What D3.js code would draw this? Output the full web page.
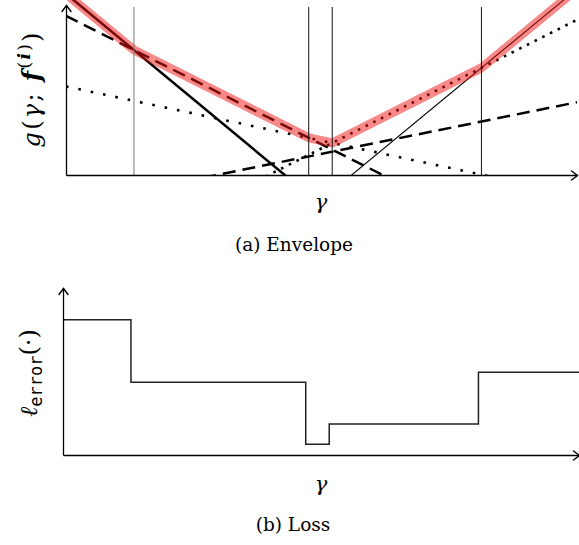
<!DOCTYPE html>
<html>
<head>
<meta charset="utf-8">
<script src="https://cdn.jsdelivr.net/npm/d3@7"></script>
<style>
  body { margin: 0; background: #fff; }
  svg { display: block; }
  .math { font-family: "DejaVu Serif", serif; }
  .caption { font-family: "DejaVu Serif", serif; }
  .tt { font-family: "DejaVu Sans Mono", monospace; }
</style>
</head>
<body>
<svg id="chart"></svg>
<script>
// --- data: the lines g_i(gamma) = a + b * gamma (arbitrary units, gamma in 0..100) ---
const lineIntercepts = [106.6, 93.6, 52.1, -60.0, -17.9, -138.7];
const lineSlopes     = [-2.49, -1.51, -0.638, 1.513, 0.607, 2.481];
const lineKinds      = ["thick", "dashed", "dotsLoose", "dots", "dashed", "thin"];

// breakpoints of the upper envelope (gamma), and the loss value on each piece
const breakpoints = [13.3, 47.5, 52.1, 81.3];
const lossValues  = [8.1, 4.35, 0.65, 1.85, 4.95];

const captions = ["(a) Envelope", "(b) Loss"];

// --- setup ---
const width = 579, height = 545;
const svg = d3.select("#chart")
    .attr("width", width)
    .attr("height", height)
    .attr("viewBox", [0, 0, width, height]);

// arrow head used on the axes
svg.append("defs").append("marker")
    .attr("id", "arrow")
    .attr("viewBox", "-8 -6 10 12")
    .attr("markerWidth", 10).attr("markerHeight", 12)
    .attr("markerUnits", "userSpaceOnUse")
    .attr("refX", 0).attr("refY", 0)
    .attr("orient", "auto")
  .append("path")
    .attr("d", "M-6,-4.5 Q-2,-1.5 0,0 Q-2,1.5 -6,4.5")
    .attr("fill", "none")
    .attr("stroke", "#000")
    .attr("stroke-width", 1.4)
    .attr("stroke-linecap", "round");

// --- top panel scales ---
const x = d3.scaleLinear().domain([0, 100]).range([66, 577]);
const y = d3.scaleLinear().domain([0, 100]).range([175, 5]);

svg.append("clipPath").attr("id", "clipTop")
  .append("rect")
    .attr("x", x(0)).attr("y", 0)
    .attr("width", x(100) - x(0)).attr("height", y(0));

const lineStyle = {
    thick:     { w: 2.5, dash: null },
    dashed:    { w: 2.5, dash: "13,7" },
    dotsLoose: { w: 2.6, dash: "2.6,10" },
    dots:      { w: 2.6, dash: "2.6,6" },
    thin:      { w: 1.1, dash: null }
};

const lineData = lineIntercepts.map((a, i) => ({ a, b: lineSlopes[i], kind: lineKinds[i] }));
const g = (L, t) => L.a + L.b * t;

const plotTop = svg.append("g").attr("clip-path", "url(#clipTop)");

plotTop.selectAll(".feature")
  .data(lineData)
  .join("line")
    .attr("class", "feature")
    .attr("x1", x(0)).attr("x2", x(100))
    .attr("y1", d => y(g(d, 0)))
    .attr("y2", d => y(g(d, 100)))
    .attr("stroke", "#000")
    .attr("stroke-width", d => lineStyle[d.kind].w)
    .attr("stroke-dasharray", d => lineStyle[d.kind].dash);

// upper envelope (max of the lines) through the breakpoints
const envGammas = [0, ...breakpoints, 100];
const envelope = envGammas.map(t => [t, d3.max(lineData, L => g(L, t))]);

plotTop.append("path")
    .datum(envelope)
    .attr("d", d3.line().x(d => x(d[0])).y(d => y(d[1])))
    .attr("fill", "none")
    .attr("stroke", "rgba(240,20,20,0.5)")
    .attr("stroke-width", 9)
    .attr("stroke-linejoin", "round");

// vertical guides at the breakpoints
svg.append("g")
  .selectAll("line")
  .data(breakpoints)
  .join("line")
    .attr("x1", d => x(d)).attr("x2", d => x(d))
    .attr("y1", 7).attr("y2", y(0))
    .attr("stroke", (d, i) => i === 0 ? "#777" : "#111")
    .attr("stroke-width", 1);

// axes (no ticks, arrow ends)
svg.append("g")
    .attr("transform", `translate(0,${y(0)})`)
    .call(d3.axisBottom(x).ticks(0).tickSizeOuter(0))
    .call(a => a.select(".domain").attr("stroke-width", 1.3).attr("marker-end", "url(#arrow)"));

svg.append("g")
    .attr("transform", `translate(${x(0)},0)`)
    .call(d3.axisLeft(y).ticks(0).tickSizeOuter(0))
    .call(a => a.select(".domain").attr("stroke-width", 1.3).attr("marker-end", "url(#arrow)"));

// labels
const ylab = svg.append("text")
    .attr("class", "math")
    .attr("transform", "translate(40,90) rotate(-90)")
    .attr("text-anchor", "middle")
    .style("font-size", "24px")
    .attr("textLength", 115)
    .attr("lengthAdjust", "spacing");
ylab.append("tspan").style("font-style", "italic").text("g");
ylab.append("tspan").text("(");
ylab.append("tspan").style("font-style", "italic").text("γ");
ylab.append("tspan").text("; ");
ylab.append("tspan").style("font-style", "italic").style("font-weight", "bold").text("f");
ylab.append("tspan").style("font-size", "17px").attr("dy", -10).text("(");
ylab.append("tspan").style("font-size", "17px").style("font-style", "italic").style("font-weight", "bold").text("i");
ylab.append("tspan").style("font-size", "17px").text(")");
ylab.append("tspan").attr("dy", 10).text(")");

svg.append("text")
    .attr("class", "math")
    .attr("x", 321).attr("y", 209)
    .attr("text-anchor", "middle")
    .style("font-style", "italic")
    .style("font-size", "21px")
    .text("γ");

svg.append("text")
    .attr("class", "caption")
    .attr("x", 294).attr("y", 251)
    .attr("text-anchor", "middle")
    .style("font-size", "18.5px")
    .text(captions[0]);

// --- bottom panel ---
const xB = d3.scaleLinear().domain([0, 100]).range([63, 574]);
const yB = d3.scaleLinear().domain([0, 10]).range([455, 288]);
const gammaEnd = xB.invert(579);

const cuts = [0, ...breakpoints, gammaEnd];
const steps = [];
lossValues.forEach((v, i) => {
    steps.push([cuts[i], v]);
    steps.push([cuts[i + 1], v]);
});

svg.append("path")
    .datum(steps)
    .attr("d", d3.line().x(d => xB(d[0])).y(d => yB(d[1])))
    .attr("fill", "none")
    .attr("stroke", "#222")
    .attr("stroke-width", 1.5);

svg.append("g")
    .attr("transform", `translate(0,${yB(0)})`)
    .call(d3.axisBottom(xB.copy().domain([0, gammaEnd]).range([63, 579])).ticks(0).tickSizeOuter(0))
    .call(a => a.select(".domain").attr("stroke-width", 1.3).attr("marker-end", "url(#arrow)"));

svg.append("g")
    .attr("transform", `translate(${xB(0)},0)`)
    .call(d3.axisLeft(yB).ticks(0).tickSizeOuter(0))
    .call(a => a.select(".domain").attr("stroke-width", 1.3).attr("marker-end", "url(#arrow)"));

const llab = svg.append("text")
    .attr("class", "math")
    .attr("transform", "translate(37,373) rotate(-90)")
    .attr("text-anchor", "middle")
    .style("font-size", "24px");
llab.append("tspan").style("font-style", "italic").text("ℓ");
llab.append("tspan").attr("class", "tt").style("font-size", "17px").attr("dy", 5).text("error");
llab.append("tspan").attr("dy", -5).text("(·)");

svg.append("text")
    .attr("class", "math")
    .attr("x", 321).attr("y", 491)
    .attr("text-anchor", "middle")
    .style("font-style", "italic")
    .style("font-size", "21px")
    .text("γ");

svg.append("text")
    .attr("class", "caption")
    .attr("x", 293).attr("y", 531)
    .attr("text-anchor", "middle")
    .style("font-size", "18.5px")
    .text(captions[1]);
</script>
</body>
</html>
